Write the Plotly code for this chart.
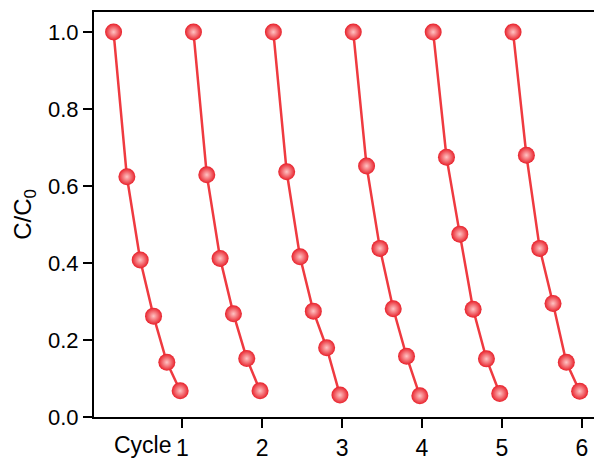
import plotly.graph_objects as go

# ---- data ----
cycles = [1, 2, 3, 4, 5, 6]
time_min = [0, 10, 20, 30, 40, 50]
cycle1 = [1.0, 0.624, 0.408, 0.262, 0.142, 0.068]
cycle2 = [1.0, 0.629, 0.412, 0.268, 0.152, 0.068]
cycle3 = [1.0, 0.637, 0.416, 0.275, 0.180, 0.057]
cycle4 = [1.0, 0.652, 0.438, 0.281, 0.158, 0.055]
cycle5 = [1.0, 0.675, 0.475, 0.280, 0.151, 0.061]
cycle6 = [1.0, 0.680, 0.438, 0.295, 0.142, 0.067]
series = [cycle1, cycle2, cycle3, cycle4, cycle5, cycle6]
tick_labels = ["1", "2", "3", "4", "5", "6"]
y_ticks = [0.0, 0.2, 0.4, 0.6, 0.8, 1.0]

# time axis of each cycle is drawn ending just before its cycle tick
cycle_span_min = 60.0
start_offset = -0.86

FONT = "Liberation Sans, Arial, sans-serif"
RED = "#ef3a40"

fig = go.Figure()
for c, vals in zip(cycles, series):
    xs = [c + start_offset + t / cycle_span_min for t in time_min]
    fig.add_trace(go.Scatter(
        x=xs, y=vals, mode="lines+markers",
        line=dict(color=RED, width=2.5),
        marker=dict(size=17, color="#e8202a",
                    gradient=dict(type="radial", color="#ffc4c4"),
                    line=dict(width=0)),
        showlegend=False, hoverinfo="skip",
    ))

fig.add_annotation(
    x=1, y=0, xref="x", yref="paper", text="Cycle",
    showarrow=False, xanchor="right", yanchor="top",
    xshift=-8, yshift=-13,
    font=dict(family=FONT, size=23, color="#000"),
)

fig.update_layout(
    width=594, height=461,
    margin=dict(l=94, r=0, t=12, b=44),
    paper_bgcolor="white", plot_bgcolor="white",
    font=dict(family=FONT, size=22, color="#000"),
    xaxis=dict(
        range=[-0.105, 6.153], tickvals=cycles, ticktext=tick_labels,
        showgrid=False, zeroline=False, automargin=False,
        showline=True, linecolor="#000", linewidth=2, mirror=True,
        ticks="outside", ticklen=9, tickwidth=2, tickcolor="#000",
        tickfont=dict(family=FONT, size=23, color="#000"),
    ),
    yaxis=dict(
        range=[0, 1.052], tickvals=y_ticks, tickformat=".1f",
        showgrid=False, zeroline=False, automargin=False,
        showline=True, linecolor="#000", linewidth=2, mirror=False,
        ticks="outside", ticklen=9, tickwidth=2, tickcolor="#000",
        tickfont=dict(family=FONT, size=22, color="#000"),
        title=dict(text="C/C<sub>0</sub>", font=dict(family=FONT, size=24, color="#000"),
                   standoff=10),
    ),
)

fig.write_html("out.html")
